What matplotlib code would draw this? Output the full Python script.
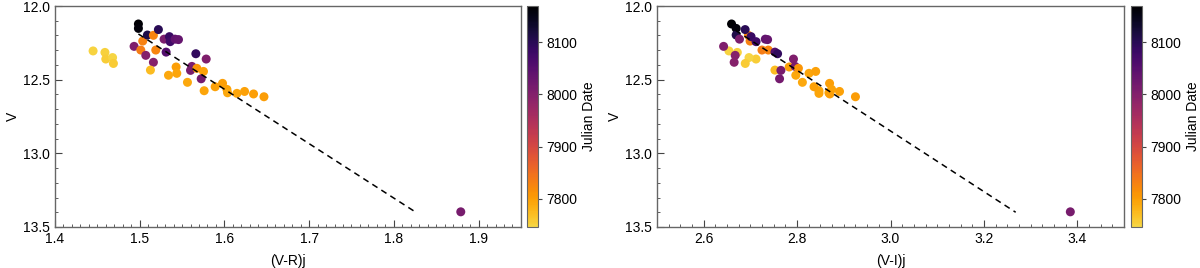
import matplotlib
matplotlib.use('Agg')

import numpy as np
import matplotlib.pyplot as plt
from matplotlib.ticker import MultipleLocator
from matplotlib.colors import ListedColormap

plt.rcParams['font.family'] = ['Liberation Sans', 'DejaVu Sans']
plt.rcParams['font.size'] = 10

# ===== 数据: V 星等, (V-R)j, (V-I)j, 儒略日 =====
V = [12.305, 12.315, 12.360, 12.350, 12.390,
     12.122, 12.152, 12.274, 12.238, 12.197,
     12.199, 12.160, 12.225, 12.208, 12.242,
     12.225, 12.228, 12.299, 12.299, 12.335,
     12.382, 12.313, 12.435, 12.324, 12.360,
     12.414, 12.470, 12.457, 12.518, 12.410,
     12.437, 12.423, 12.444, 12.494, 12.575,
     12.548, 12.525, 12.566, 12.589, 12.593,
     12.580, 12.597, 12.616, 13.397]
VR = [1.445, 1.459, 1.460, 1.468, 1.469,
      1.4985, 1.4985, 1.4934, 1.5036, 1.5091,
      1.5162, 1.5221, 1.5288, 1.5351, 1.536,
      1.5418, 1.5458, 1.5013, 1.519, 1.5072,
      1.5162, 1.5312, 1.5127, 1.5663, 1.5785,
      1.543, 1.534, 1.5438, 1.5564, 1.5616,
      1.560, 1.5675, 1.5753, 1.5726, 1.5761,
      1.5891, 1.5978, 1.603, 1.6037, 1.6148,
      1.6238, 1.6344, 1.6467, 1.879]
VI = [2.654, 2.672, 2.712, 2.697, 2.689,
      2.6596, 2.6695, 2.6426, 2.6993, 2.6695,
      2.6957, 2.6887, 2.6766, 2.7014, 2.7121,
      2.7319, 2.7368, 2.7248, 2.7383, 2.6674,
      2.6652, 2.7525, 2.7525, 2.7582, 2.7922,
      2.783, 2.7972, 2.8255, 2.8113, 2.7957,
      2.7653, 2.8028, 2.8398, 2.7624, 2.8468,
      2.8362, 2.8695, 2.8738, 2.8681, 2.8468,
      2.8908, 2.8700, 2.9249, 3.385]
JD = [7750, 7752, 7755, 7749, 7756,
      8169, 8160, 8005, 7830, 8110,
      7828, 8100, 8010, 8085, 8075,
      8040, 8035, 7835, 7825, 8000,
      7998, 8055, 7772, 8090, 8005,
      7800, 7790, 7795, 7792, 8010,
      8012, 7810, 7798, 8018, 7795,
      7798, 7800, 7796, 7792, 7794,
      7798, 7800, 7802, 8015]

# 拟合直线端点
fit_vr_x = [1.4985, 1.826]
fit_vr_y = [12.19, 13.40]
fit_vi_x = [2.668, 3.268]
fit_vi_y = [12.165, 13.40]

jd_min, jd_max = 7746, 8169

# inferno 去掉最浅的一段, 再反转
cmap = ListedColormap(plt.get_cmap('inferno')(np.linspace(0.0, 0.9, 256))[::-1])

fig = plt.figure(figsize=(12, 2.68), dpi=100)

panels = [
    (VR, fit_vr_x, fit_vr_y, '(V-R)j', (1.4, 1.95), 0.1, 0.01,
     [0.0458, 0.153, 0.3883, 0.8246], [0.4392, 0.153, 0.0088, 0.8246]),
    (VI, fit_vi_x, fit_vi_y, '(V-I)j', (2.5, 3.5), 0.2, 0.025,
     [0.5475, 0.153, 0.3892, 0.8246], [0.9425, 0.153, 0.0088, 0.8246]),
]

for xs, fx, fy, xlabel, xlim, major, minor, apos, cpos in panels:
    ax = fig.add_axes(apos)
    sc = ax.scatter(xs, V, c=JD, cmap=cmap, vmin=jd_min, vmax=jd_max,
                    s=42, linewidths=0, zorder=2)
    ax.plot(fx, fy, 'k--', lw=1.1, dashes=(4, 3), zorder=3)
    ax.set_xlim(*xlim)
    ax.set_ylim(13.5, 12.0)
    ax.xaxis.set_major_locator(MultipleLocator(major))
    ax.xaxis.set_minor_locator(MultipleLocator(minor))
    ax.yaxis.set_major_locator(MultipleLocator(0.5))
    ax.yaxis.set_minor_locator(MultipleLocator(0.1))
    ax.yaxis.set_major_formatter(plt.FormatStrFormatter('%.1f'))
    ax.xaxis.set_major_formatter(plt.FormatStrFormatter('%.1f'))
    ax.tick_params(which='both', direction='in', top=False, right=False,
                   color='#444444')
    ax.tick_params(which='major', length=5, width=0.8)
    ax.tick_params(which='minor', length=2.5, width=0.6)
    for sp in ax.spines.values():
        sp.set_color('#666666')
        sp.set_linewidth(1.0)
    ax.set_xlabel(xlabel, labelpad=6)
    ax.set_ylabel('V')
    ax.yaxis.set_label_coords(-0.075, 0.5)

    cax = fig.add_axes(cpos)
    cb = fig.colorbar(sc, cax=cax)
    cb.set_ticks([7800, 7900, 8000, 8100])
    cb.set_label('Julian Date', labelpad=3)
    cb.outline.set_edgecolor('#666666')
    cax.tick_params(length=3, width=0.8, color='#444444')

plt.savefig('out.png', dpi=100)
